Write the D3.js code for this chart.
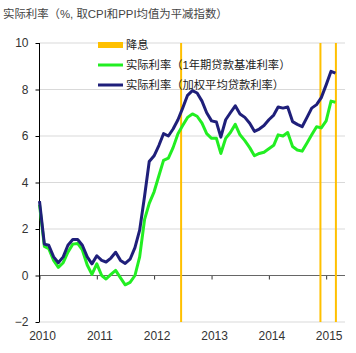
<!DOCTYPE html>
<html>
<head>
<meta charset="utf-8">
<script src="https://d3js.org/d3.v7.min.js"></script>
<style>
  body { margin: 0; background: #fff; }
  text { font-family: "Liberation Sans", "Noto Sans CJK SC", sans-serif; }
</style>
</head>
<body>
<script>
// Monthly real interest rates, Jan 2010 - Mar 2015 (%)
var startMonth = new Date(2010, 0, 1);
var endMonth = new Date(2015, 3, 1);

// real rate based on 1-year benchmark lending rate
var benchmarkRate = [
  3.05, 1.25, 1.15, 0.65, 0.35, 0.55, 1.0, 1.35, 1.38, 1.1, 0.45, 0.05,
  0.5, 0.0, -0.15, 0.05, 0.22, -0.1, -0.4, -0.3, 0.0, 0.8, 2.4, 3.1,
  3.6, 4.3, 4.95, 5.05, 5.5, 6.1, 6.45, 6.8, 6.95, 6.85, 6.55, 6.1,
  5.9, 5.9, 5.25, 5.9, 6.15, 6.5, 6.05, 5.8, 5.5, 5.15, 5.25, 5.3,
  5.45, 5.6, 6.05, 6.0, 6.15, 5.55, 5.4, 5.35, 5.7, 6.05, 6.4, 6.35,
  6.65, 7.5, 7.45
];

// real rate based on weighted average lending rate
var weightedRate = [
  3.2, 1.35, 1.3, 0.8, 0.55, 0.8, 1.3, 1.55, 1.55, 1.3, 0.8, 0.5,
  0.85, 0.65, 0.58, 0.75, 1.0, 0.65, 0.52, 0.7, 1.2, 1.95, 3.4, 4.9,
  5.15, 5.6, 6.1, 6.0, 6.3, 6.7, 7.2, 7.75, 7.95, 7.85, 7.5, 7.0,
  6.65, 6.6, 5.95, 6.7, 7.0, 7.3, 6.95, 6.8, 6.55, 6.2, 6.3, 6.45,
  6.7, 6.9, 7.25, 7.2, 7.25, 6.62, 6.5, 6.4, 6.8, 7.2, 7.35, 7.65,
  8.2, 8.78, 8.7
];

// rate cut dates (decimal years)
var rateCuts = [2012.47, 2014.9, 2015.17];

var yTicks = [-2, 0, 2, 4, 6, 8, 10];
var xYears = [2010, 2011, 2012, 2013, 2014, 2015];

var titleText = "实际利率（%, 取CPI和PPI均值为平减指数）";
var legendNames = ["降息", "实际利率（1年期贷款基准利率）", "实际利率（加权平均贷款利率）"];
var legendColors = ["#FFC000", "#22EE22", "#1F1F7A"];

var svgWidth = 356;
var svgHeight = 353;

var plot = { left: 39.5, right: 345, top: 43, bottom: 322 };

var months = d3.timeMonth.range(startMonth, endMonth);

function yearDate(y) {
  var yr = Math.floor(y);
  var start = new Date(yr, 0, 1);
  var end = new Date(yr + 1, 0, 1);
  return new Date(+start + (y - yr) * (end - start));
}

var svg = d3.select("body")
  .append("svg")
  .attr("width", svgWidth)
  .attr("height", svgHeight);

// scales
var xScale = d3.scaleTime()
  .domain([new Date(2010, 0, 1), new Date(2015, 4, 1)])
  .range([plot.left, plot.right]);

var yScale = d3.scaleLinear()
  .domain([-2, 10])
  .range([plot.bottom, plot.top]);

// title
svg.append("text")
  .attr("x", 3)
  .attr("y", 18)
  .attr("font-size", "11.4px")
  .attr("fill", "#444")
  .text(titleText);

// horizontal gridlines
svg.append("g")
  .selectAll("line")
  .data(yTicks.filter(function(d) { return d !== 0; }))
  .enter()
  .append("line")
  .attr("x1", plot.left)
  .attr("x2", plot.right)
  .attr("y1", function(d) { return yScale(d); })
  .attr("y2", function(d) { return yScale(d); })
  .attr("stroke", "#D9D9D9")
  .attr("stroke-width", 1);

// zero line with year ticks
var zeroAxis = d3.axisBottom(xScale)
  .tickValues(xYears.map(function(y) { return new Date(y, 0, 1); }))
  .tickSize(4)
  .tickFormat("");

var zeroG = svg.append("g")
  .attr("transform", `translate(0, ${yScale(0)})`)
  .call(zeroAxis);
zeroG.select(".domain").remove();
zeroG.append("line")
  .attr("x1", plot.left)
  .attr("x2", plot.right)
  .attr("stroke", "#666")
  .attr("stroke-width", 1);
zeroG.selectAll(".tick line").attr("stroke", "#333");

// year labels along the bottom
svg.append("g")
  .selectAll("text")
  .data(xYears)
  .enter()
  .append("text")
  .attr("x", function(d) { return xScale(new Date(d, 0, 1)) + 3; })
  .attr("y", 340)
  .attr("text-anchor", "middle")
  .attr("font-size", "12px")
  .attr("fill", "#333")
  .text(function(d) { return d; });

// y axis
var leftAxis = d3.axisLeft(yScale)
  .tickValues(yTicks)
  .tickSize(4)
  .tickPadding(7);

var yG = svg.append("g")
  .attr("transform", `translate(${plot.left}, 0)`)
  .call(leftAxis);
yG.select(".domain").attr("stroke", "#000").attr("d", `M0,${plot.top}V${plot.bottom}`);
yG.selectAll(".tick line").attr("stroke", "#000");
yG.selectAll(".tick text")
  .attr("font-size", "12px")
  .attr("fill", "#333")
  .style("font-family", "'Liberation Sans', sans-serif");

// rate cut markers
svg.append("g")
  .selectAll("line")
  .data(rateCuts)
  .enter()
  .append("line")
  .attr("x1", function(d) { return xScale(yearDate(d)); })
  .attr("x2", function(d) { return xScale(yearDate(d)); })
  .attr("y1", plot.top)
  .attr("y2", plot.bottom)
  .attr("stroke", legendColors[0])
  .attr("stroke-width", 2);

// lines
var line = d3.line()
  .x(function(d, i) { return xScale(months[i]); })
  .y(function(d) { return yScale(d); });

svg.append("path")
  .datum(benchmarkRate)
  .attr("d", line)
  .attr("fill", "none")
  .attr("stroke", legendColors[1])
  .attr("stroke-width", 3)
  .attr("stroke-linejoin", "round");

svg.append("path")
  .datum(weightedRate)
  .attr("d", line)
  .attr("fill", "none")
  .attr("stroke", legendColors[2])
  .attr("stroke-width", 3)
  .attr("stroke-linejoin", "round");

// legend
var legendG = svg.append("g");
var legendRows = legendG.selectAll("g")
  .data(legendNames)
  .enter()
  .append("g")
  .attr("transform", function(d, i) { return `translate(98, ${45 + i * 20})`; });

legendRows.append("line")
  .attr("x1", 0)
  .attr("x2", 25)
  .attr("stroke", function(d, i) { return legendColors[i]; })
  .attr("stroke-width", function(d, i) { return i === 0 ? 6 : 3; });

legendRows.append("text")
  .attr("x", 28)
  .attr("dy", "0.35em")
  .attr("font-size", "11.3px")
  .attr("fill", "#222")
  .text(function(d) { return d; });
</script>
</body>
</html>
